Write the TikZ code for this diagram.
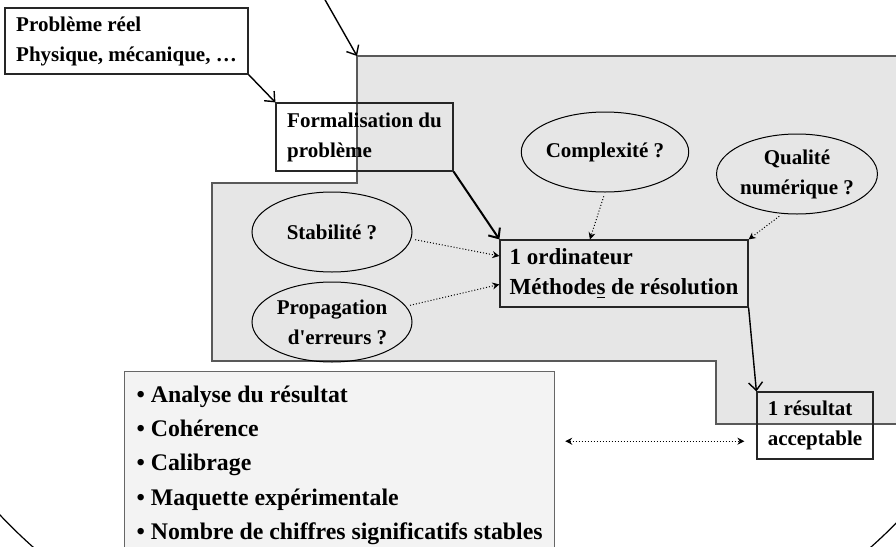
\documentclass[tikz,border=0pt]{standalone}
\usepackage{fontspec}
\setmainfont{Liberation Serif}
\usetikzlibrary{shapes.geometric,arrows.meta}
\definecolor{zone}{HTML}{E6E6E6}
\definecolor{liste}{HTML}{F3F3F3}

\begin{document}
\begin{tikzpicture}
  [x=0.5pt,y=-0.5pt,
   every node/.style={font=\bfseries\fontsize{10.5}{15}\selectfont,align=left,inner sep=0pt},
   boite/.style={draw=black!85,line width=0.6pt},
   bulle/.style={ellipse,draw,line width=0.5pt,align=center,minimum width=80pt,minimum height=40pt},
   plein/.style={-{Straight Barb[length=4pt,width=7pt]},line width=0.7pt},
   pointe/.tip={Stealth[length=3.5pt,width=3.5pt]},
   pointille/.style={densely dotted,line width=0.5pt,-pointe}]
  \useasboundingbox (0,0) rectangle (896,547);
  \clip (0,0) rectangle (896,547);

  \filldraw[fill=zone,draw=black!65,line width=0.9pt] (357,56) -- (900,56) -- (900,424) -- (716,424)
    -- (716,361) -- (212,361) -- (212,183) -- (357,183) -- cycle;
  \draw[line width=0.6pt] (452,200) ellipse [x radius=291pt,y radius=250pt];

  \coordinate (haut) at (324,-2);
  \coordinate (coin) at (357,56);

  \node[boite,minimum width=121.5pt,minimum height=33pt] (pb) at (126.5,41) {Problème réel\\Physique, mécanique, …};
  \node[boite,minimum width=88.5pt,minimum height=34pt] (form) at (364.5,137) {Formalisation du\\problème};
  \node[boite,minimum width=124pt,minimum height=33.5pt,font=\bfseries\fontsize{11.5}{15}\selectfont] (ordi) at (624,273.5) {1 ordinateur\\Méthode\underline{s} de résolution};
  \node[boite,minimum width=58pt,minimum height=33.5pt] (res) at (815,425.5) {1 résultat\\acceptable};

  \node[bulle] (comp) at (605,152) {Complexité ?};
  \node[bulle] (qual) at (797,174) {Qualité\\numérique ?};
  \node[bulle] (stab) at (332,232) {Stabilité ?};
  \node[bulle,align=right] (prop) at (332,322) {Propagation\\d\textquotesingle erreurs ?};

  \node[draw=black!60,line width=0.6pt,fill=liste,anchor=north west,minimum width=215pt,
        inner xsep=5pt,inner ysep=7pt,font=\bfseries\fontsize{11.9}{17.2}\selectfont] (liste) at (124,371)
    {• Analyse du résultat\\• Cohérence\\• Calibrage\\• Maquette expérimentale\\• Nombre de chiffres significatifs stables};

  \draw[plein] (haut) -- (coin);
  \draw[plein] (pb.south east) -- (form.north west);
  \draw[plein,line width=1pt] (form.south east) -- (ordi.north west);
  \draw[plein] (ordi.south east) -- (res.north west);

  \foreach \from/\to in {comp.south/ordi.135,qual.250/ordi.north east,stab.-5/ordi.172,prop.12/ordi.185}
    \draw[pointille,shorten <=2pt] (\from) -- (\to);
  \draw[densely dotted,line width=0.5pt,pointe-pointe,shorten <=5pt,shorten >=6pt] (liste.east |- res.195) -- (res.195);

\end{tikzpicture}
\end{document}
